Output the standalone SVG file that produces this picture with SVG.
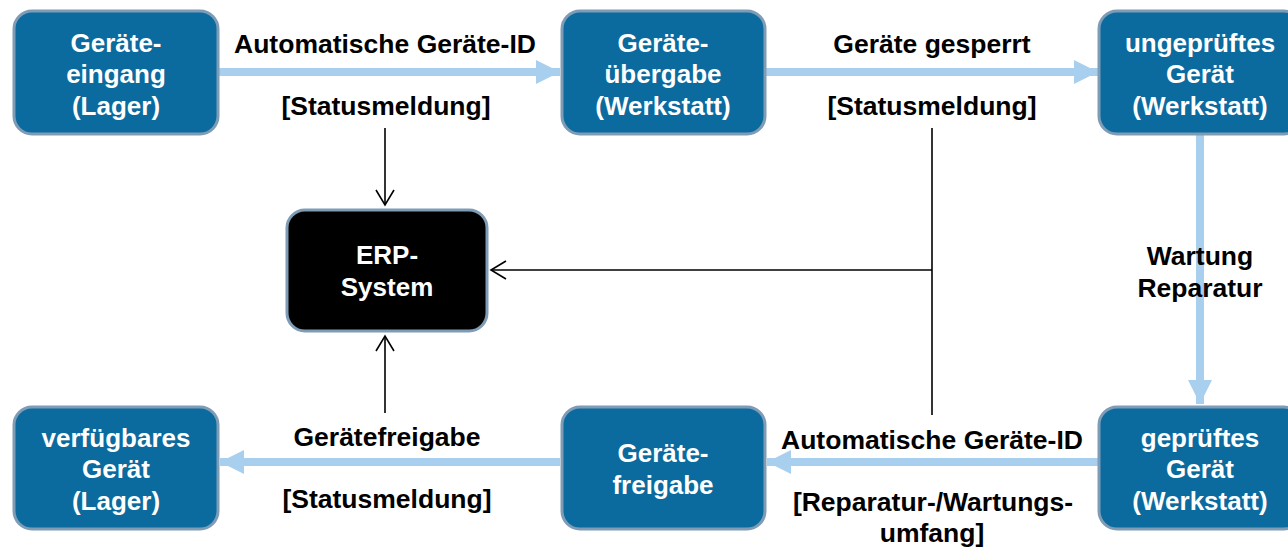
<svg xmlns="http://www.w3.org/2000/svg" width="1288" height="547" viewBox="0 0 1288 547">
  <style>
    .node { fill: #0b6a9e; stroke: #7f9cb6; stroke-width: 3; }
    .erp { fill: #000000; stroke: #7f9cb6; stroke-width: 3; }
    .ntext { font-family: "Liberation Sans", Arial, sans-serif; font-weight: bold; font-size: 26px; fill: #ffffff; text-anchor: middle; }
    .label { font-family: "Liberation Sans", Arial, sans-serif; font-weight: bold; font-size: 26.5px; fill: #000000; text-anchor: middle; }
    .flow { stroke: #a9cfee; stroke-width: 8; fill: none; }
    .info { stroke: #000000; stroke-width: 1.6; fill: none; }
  </style>
  <defs>
    <marker id="flowHead" markerUnits="userSpaceOnUse" markerWidth="26" markerHeight="26" refX="24" refY="12" orient="auto">
      <path d="M0,0 L24,12 L0,24 Z" fill="#a9cfee"/>
    </marker>
    <marker id="infoHead" markerUnits="userSpaceOnUse" markerWidth="20" markerHeight="22" refX="16" refY="10" orient="auto">
      <path d="M1,1 L16,10 L1,19" fill="none" stroke="#000000" stroke-width="1.6"/>
    </marker>
  </defs>

  <rect width="1288" height="547" fill="#ffffff"/>

  <!-- connectors -->
  <g id="connectors">
    <line class="flow" x1="218" y1="72" x2="560" y2="72" marker-end="url(#flowHead)"/>
    <line class="flow" x1="765" y1="72" x2="1098" y2="72" marker-end="url(#flowHead)"/>
    <line class="flow" x1="1200" y1="135" x2="1200" y2="404" marker-end="url(#flowHead)"/>
    <line class="flow" x1="1098" y1="462" x2="767" y2="462" marker-end="url(#flowHead)"/>
    <line class="flow" x1="560" y1="462" x2="220" y2="462" marker-end="url(#flowHead)"/>

    <line class="info" x1="385" y1="128" x2="385" y2="205" marker-end="url(#infoHead)"/>
    <polyline class="info" points="932,128 932,415"/>
    <line class="info" x1="932" y1="270" x2="491" y2="270" marker-end="url(#infoHead)"/>
    <line class="info" x1="385" y1="413" x2="385" y2="336" marker-end="url(#infoHead)"/>

    <text class="label" x="385" y="53">Automatische Geräte-ID</text>
    <text class="label" x="386" y="115">[Statusmeldung]</text>
    <text class="label" x="932" y="53">Geräte gesperrt</text>
    <text class="label" x="932" y="115">[Statusmeldung]</text>
    <text class="label" x="1200" y="265">Wartung</text>
    <text class="label" x="1200" y="297">Reparatur</text>
    <text class="label" x="932" y="449">Automatische Geräte-ID</text>
    <text class="label" x="933" y="511">[Reparatur-/Wartungs-</text>
    <text class="label" x="932" y="542">umfang]</text>
    <text class="label" x="387" y="446">Gerätefreigabe</text>
    <text class="label" x="387" y="508">[Statusmeldung]</text>
  </g>

  <g id="geraeteeingang">
    <rect class="node" x="14" y="11" width="204" height="123" rx="18"/>
    <text class="ntext" x="116" y="52">Geräte-</text>
    <text class="ntext" x="116" y="83">eingang</text>
    <text class="ntext" x="116" y="115">(Lager)</text>
  </g>

  <g id="geraeteuebergabe">
    <rect class="node" x="562" y="11" width="203" height="123" rx="18"/>
    <text class="ntext" x="663" y="52">Geräte-</text>
    <text class="ntext" x="663" y="83">übergabe</text>
    <text class="ntext" x="663" y="115">(Werkstatt)</text>
  </g>

  <g id="ungeprueft">
    <rect class="node" x="1099" y="11" width="203" height="123" rx="18"/>
    <text class="ntext" x="1200" y="52">ungeprüftes</text>
    <text class="ntext" x="1200" y="83">Gerät</text>
    <text class="ntext" x="1200" y="115">(Werkstatt)</text>
  </g>

  <g id="erp">
    <rect class="erp" x="287" y="210" width="200" height="121" rx="18"/>
    <text class="ntext" x="387" y="264">ERP-</text>
    <text class="ntext" x="387" y="296">System</text>
  </g>

  <g id="verfuegbar">
    <rect class="node" x="14" y="407" width="204" height="122" rx="18"/>
    <text class="ntext" x="116" y="447">verfügbares</text>
    <text class="ntext" x="116" y="478">Gerät</text>
    <text class="ntext" x="116" y="510">(Lager)</text>
  </g>

  <g id="freigabe">
    <rect class="node" x="562" y="407" width="203" height="122" rx="18"/>
    <text class="ntext" x="663" y="462">Geräte-</text>
    <text class="ntext" x="663" y="494">freigabe</text>
  </g>

  <g id="geprueft">
    <rect class="node" x="1099" y="407" width="203" height="122" rx="18"/>
    <text class="ntext" x="1200" y="447">geprüftes</text>
    <text class="ntext" x="1200" y="478">Gerät</text>
    <text class="ntext" x="1200" y="510">(Werkstatt)</text>
  </g>
</svg>
